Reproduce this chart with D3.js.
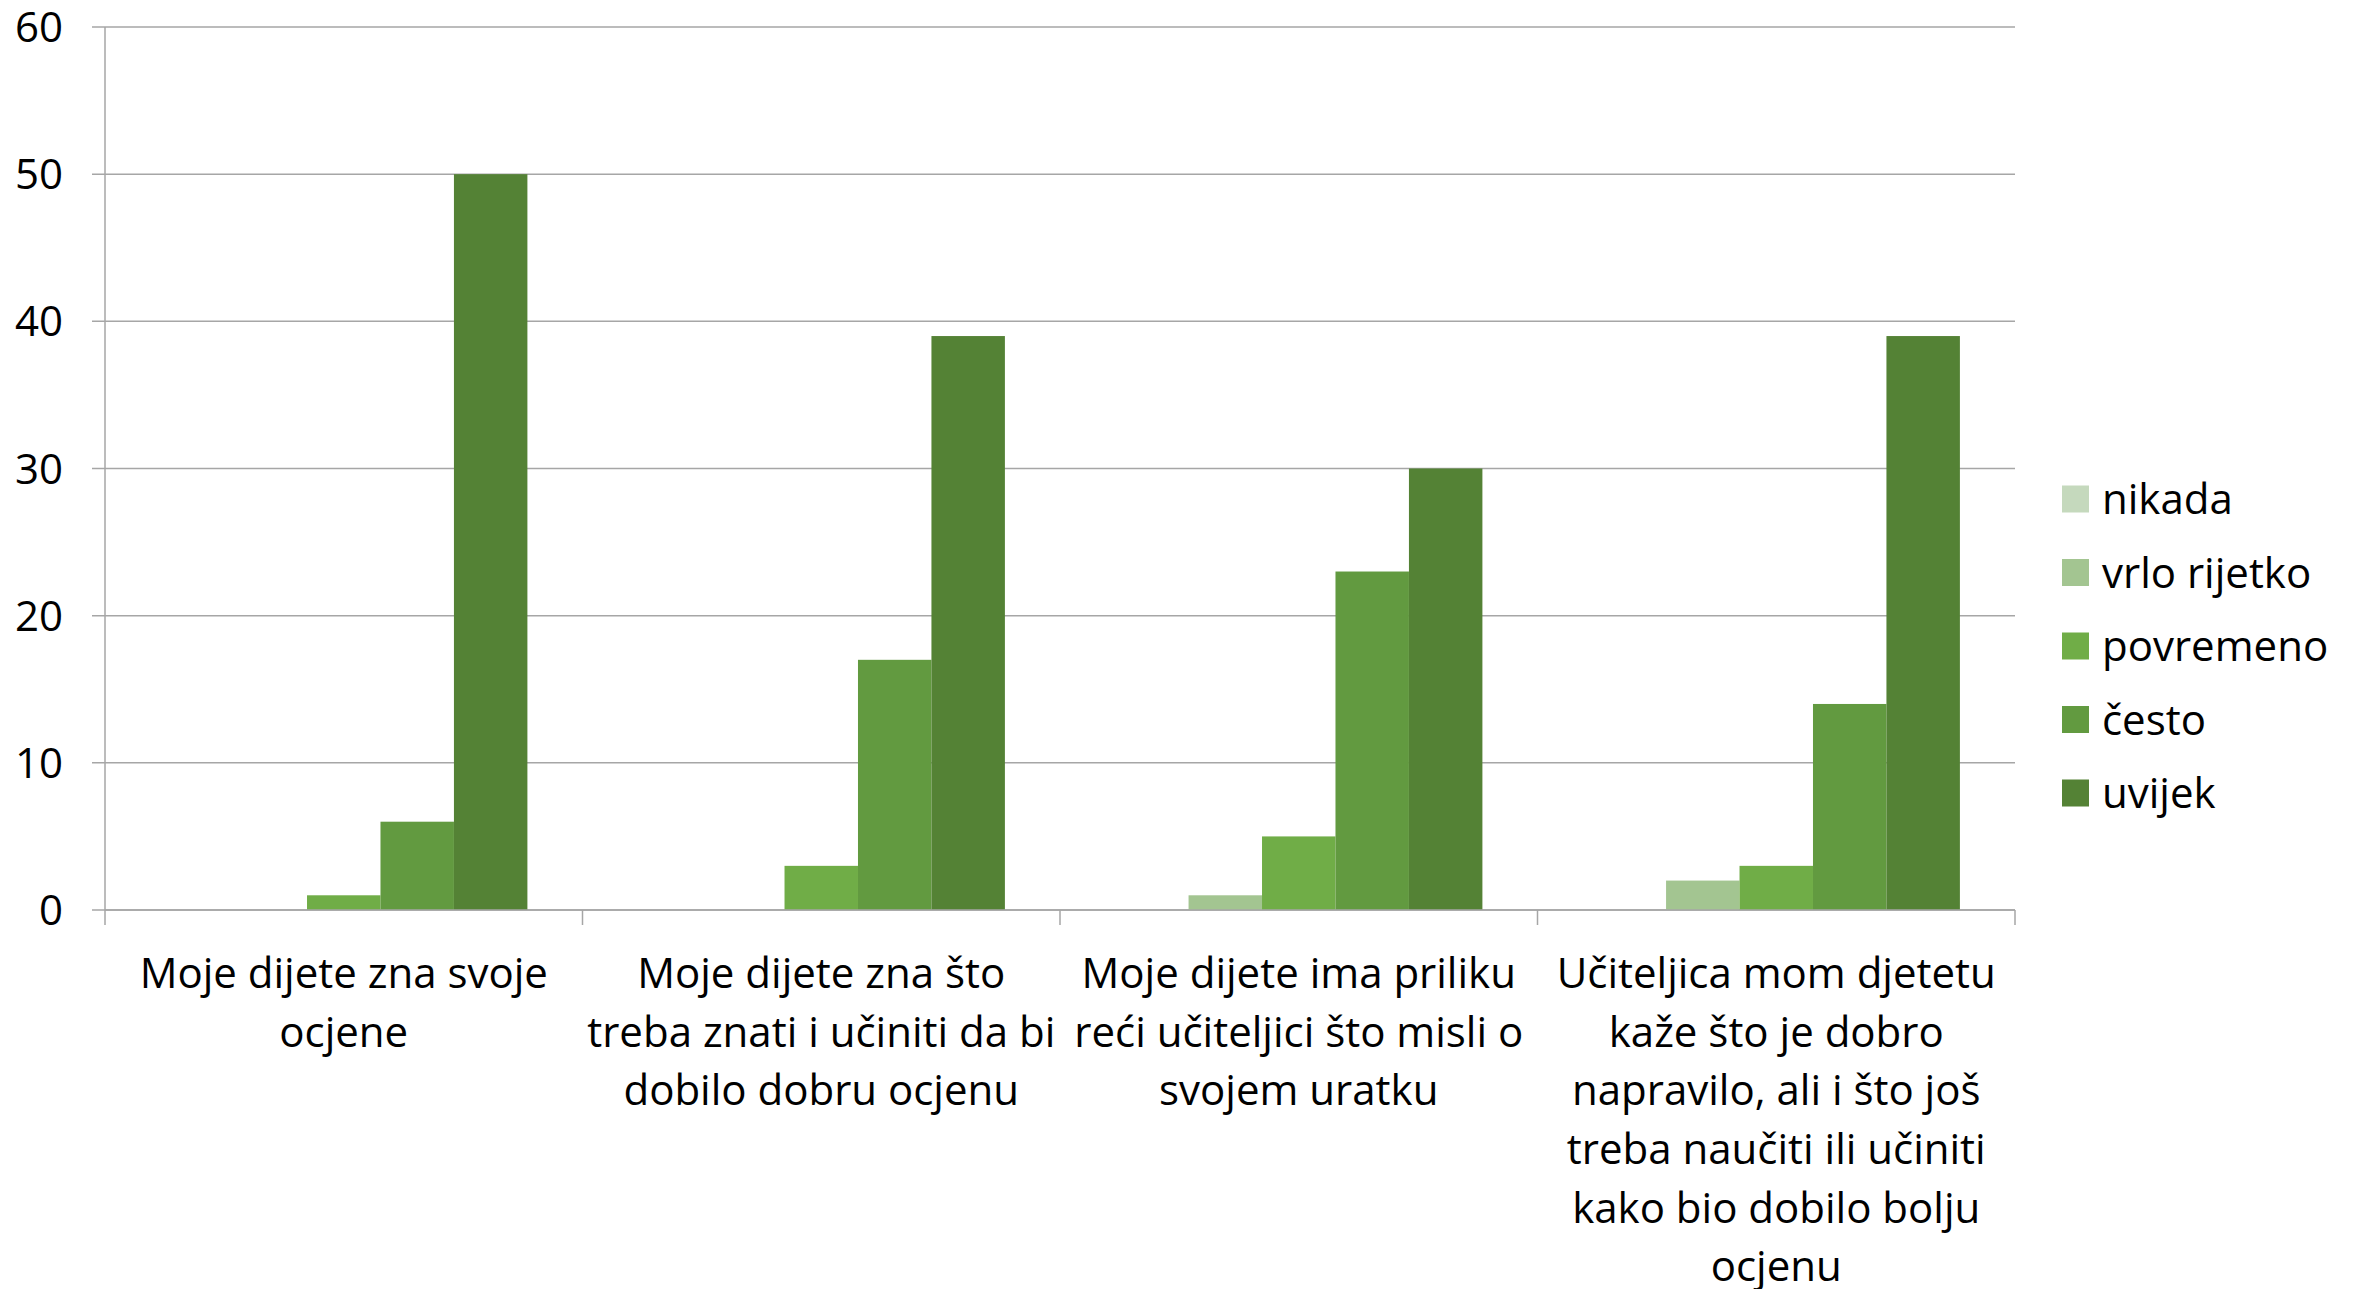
<!DOCTYPE html>
<html><head><meta charset="utf-8">
<script src="https://cdn.jsdelivr.net/npm/d3@7"></script>
<style>body{margin:0;background:#fff}svg{display:block}</style>
</head><body>
<script>
const categories = [
  ["Moje dijete zna svoje", "ocjene"],
  ["Moje dijete zna što", "treba znati i učiniti da bi", "dobilo dobru ocjenu"],
  ["Moje dijete ima priliku", "reći učiteljici što misli o", "svojem uratku"],
  ["Učiteljica mom djetetu", "kaže što je dobro", "napravilo, ali i što još", "treba naučiti ili učiniti", "kako bio dobilo bolju", "ocjenu"]
];
const seriesNames = ["nikada", "vrlo rijetko", "povremeno", "često", "uvijek"];
const nikada = [0, 0, 0, 0];
const vrloRijetko = [0, 0, 1, 2];
const povremeno = [1, 3, 5, 3];
const cesto = [6, 17, 23, 14];
const uvijek = [50, 39, 30, 39];
const yTicks = [0, 10, 20, 30, 40, 50, 60];
const colors = ["#c5d9bd", "#a3c591", "#70ad47", "#629a40", "#548235"];

const series = [nikada, vrloRijetko, povremeno, cesto, uvijek];
const W = 2358, H = 1289;
const font = "'Open Sans', sans-serif";
const fs = 42;
const svg = d3.select("body").append("svg").attr("width", W).attr("height", H);

const x0 = d3.scaleBand().domain(d3.range(categories.length)).range([105, 2015]).paddingInner(0).paddingOuter(0);
const x1 = d3.scaleBand().domain(d3.range(seriesNames.length)).range([0, x0.bandwidth()]).paddingOuter(0.75).paddingInner(0);
const y = d3.scaleLinear().domain([0, 60]).range([910, 27]);

// gridlines
svg.append("g").selectAll("line").data(yTicks).join("line")
  .attr("x1", 92).attr("x2", 2015)
  .attr("y1", d => y(d)).attr("y2", d => y(d))
  .attr("stroke", "#a6a6a6").attr("stroke-width", 1.5);

// y labels
svg.append("g").selectAll("text").data(yTicks).join("text")
  .attr("x", 63).attr("y", d => y(d)).attr("dy", "0.36em")
  .attr("text-anchor", "end").attr("font-family", font).attr("font-size", fs)
  .attr("fill", "#000").text(d => d);

// bars
const g = svg.append("g");
categories.forEach((c, ci) => {
  series.forEach((s, si) => {
    const v = s[ci];
    if (v <= 0) return;
    g.append("rect")
      .attr("x", x0(ci) + x1(si))
      .attr("y", y(v))
      .attr("width", x1.bandwidth())
      .attr("height", y(0) - y(v))
      .attr("fill", colors[si]);
  });
});

// y axis line
svg.append("line").attr("x1", 105).attr("x2", 105).attr("y1", y(60)).attr("y2", y(0))
  .attr("stroke", "#a6a6a6").attr("stroke-width", 1.5);
// x axis line
svg.append("line").attr("x1", 105).attr("x2", 2015).attr("y1", y(0)).attr("y2", y(0))
  .attr("stroke", "#a6a6a6").attr("stroke-width", 1.5);
// x ticks at boundaries
const bounds = d3.range(categories.length + 1).map(i => i < categories.length ? x0(i) : x0(i - 1) + x0.bandwidth());
svg.append("g").selectAll("line").data(bounds).join("line")
  .attr("x1", d => d).attr("x2", d => d).attr("y1", y(0)).attr("y2", y(0) + 15)
  .attr("stroke", "#a6a6a6").attr("stroke-width", 1.5);

// category labels
categories.forEach((lines, ci) => {
  const t = svg.append("text").attr("text-anchor", "middle")
    .attr("font-family", font).attr("font-size", fs).attr("fill", "#000");
  lines.forEach((ln, li) => {
    t.append("tspan").attr("x", x0(ci) + x0.bandwidth() / 2).attr("y", 973 + li * 58.6)
      .attr("dy", "0.36em").text(ln);
  });
});

// legend
const lg = svg.append("g");
seriesNames.forEach((n, i) => {
  const cy = 499 + i * 73.5;
  lg.append("rect").attr("x", 2062).attr("y", cy - 13.5).attr("width", 27).attr("height", 27).attr("fill", colors[i]);
  lg.append("text").attr("x", 2102).attr("y", cy).attr("dy", "0.36em")
    .attr("font-family", font).attr("font-size", fs).attr("fill", "#000").text(n);
});
</script>
</body></html>
